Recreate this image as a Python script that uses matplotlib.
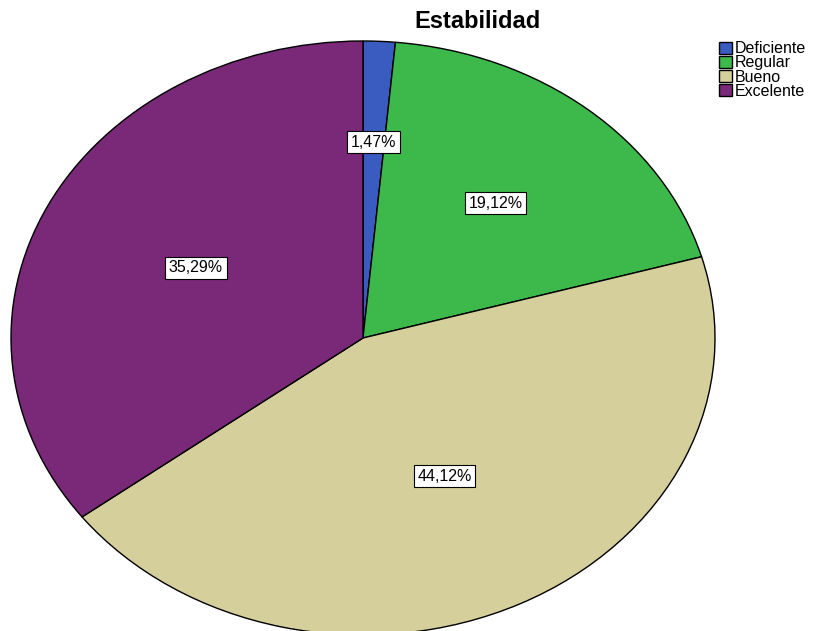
import matplotlib
matplotlib.use("Agg")
import matplotlib.pyplot as plt
import numpy as np

plt.rcParams['font.family'] = ['Liberation Sans', 'DejaVu Sans']

categories = ["Deficiente", "Regular", "Bueno", "Excelente"]
values = [1.47, 19.12, 44.12, 35.29]
colors = ["#3a5cc0", "#3cb94a", "#d5cf9b", "#7a2878"]
label_radius = [0.66, 0.59, 0.52, 0.53]

fig = plt.figure(figsize=(8.14, 6.31), dpi=100)
ax = fig.add_axes([11/814, -4/631, 704/814, 594/631])
wedges, _ = ax.pie(values, colors=colors, startangle=90, counterclock=False,
                   wedgeprops=dict(edgecolor="black", linewidth=1.0))
ax.set_aspect('auto')
ax.set_xlim(-1, 1)
ax.set_ylim(-1, 1)

for w, v, r in zip(wedges, values, label_radius):
    ang = np.deg2rad((w.theta1 + w.theta2) / 2)
    ax.text(r * np.cos(ang), r * np.sin(ang), f"{v:.2f}%".replace(".", ","),
            ha="center", va="center", fontsize=11.5,
            bbox=dict(boxstyle="square,pad=0.22", facecolor="white",
                      edgecolor="black", linewidth=0.8))

fig.text(478/814, 1 - 22/631, "Estabilidad", ha="center", va="center",
         fontsize=17, fontweight="bold")

fig.legend(wedges, categories, loc="upper left", bbox_to_anchor=(708/814, 1 - 30/631),
           frameon=False, fontsize=11.5, handlelength=0.8, handleheight=0.8,
           handletextpad=0.2, labelspacing=-0.05, borderpad=0.2)

fig.savefig("out.png", dpi=100)
